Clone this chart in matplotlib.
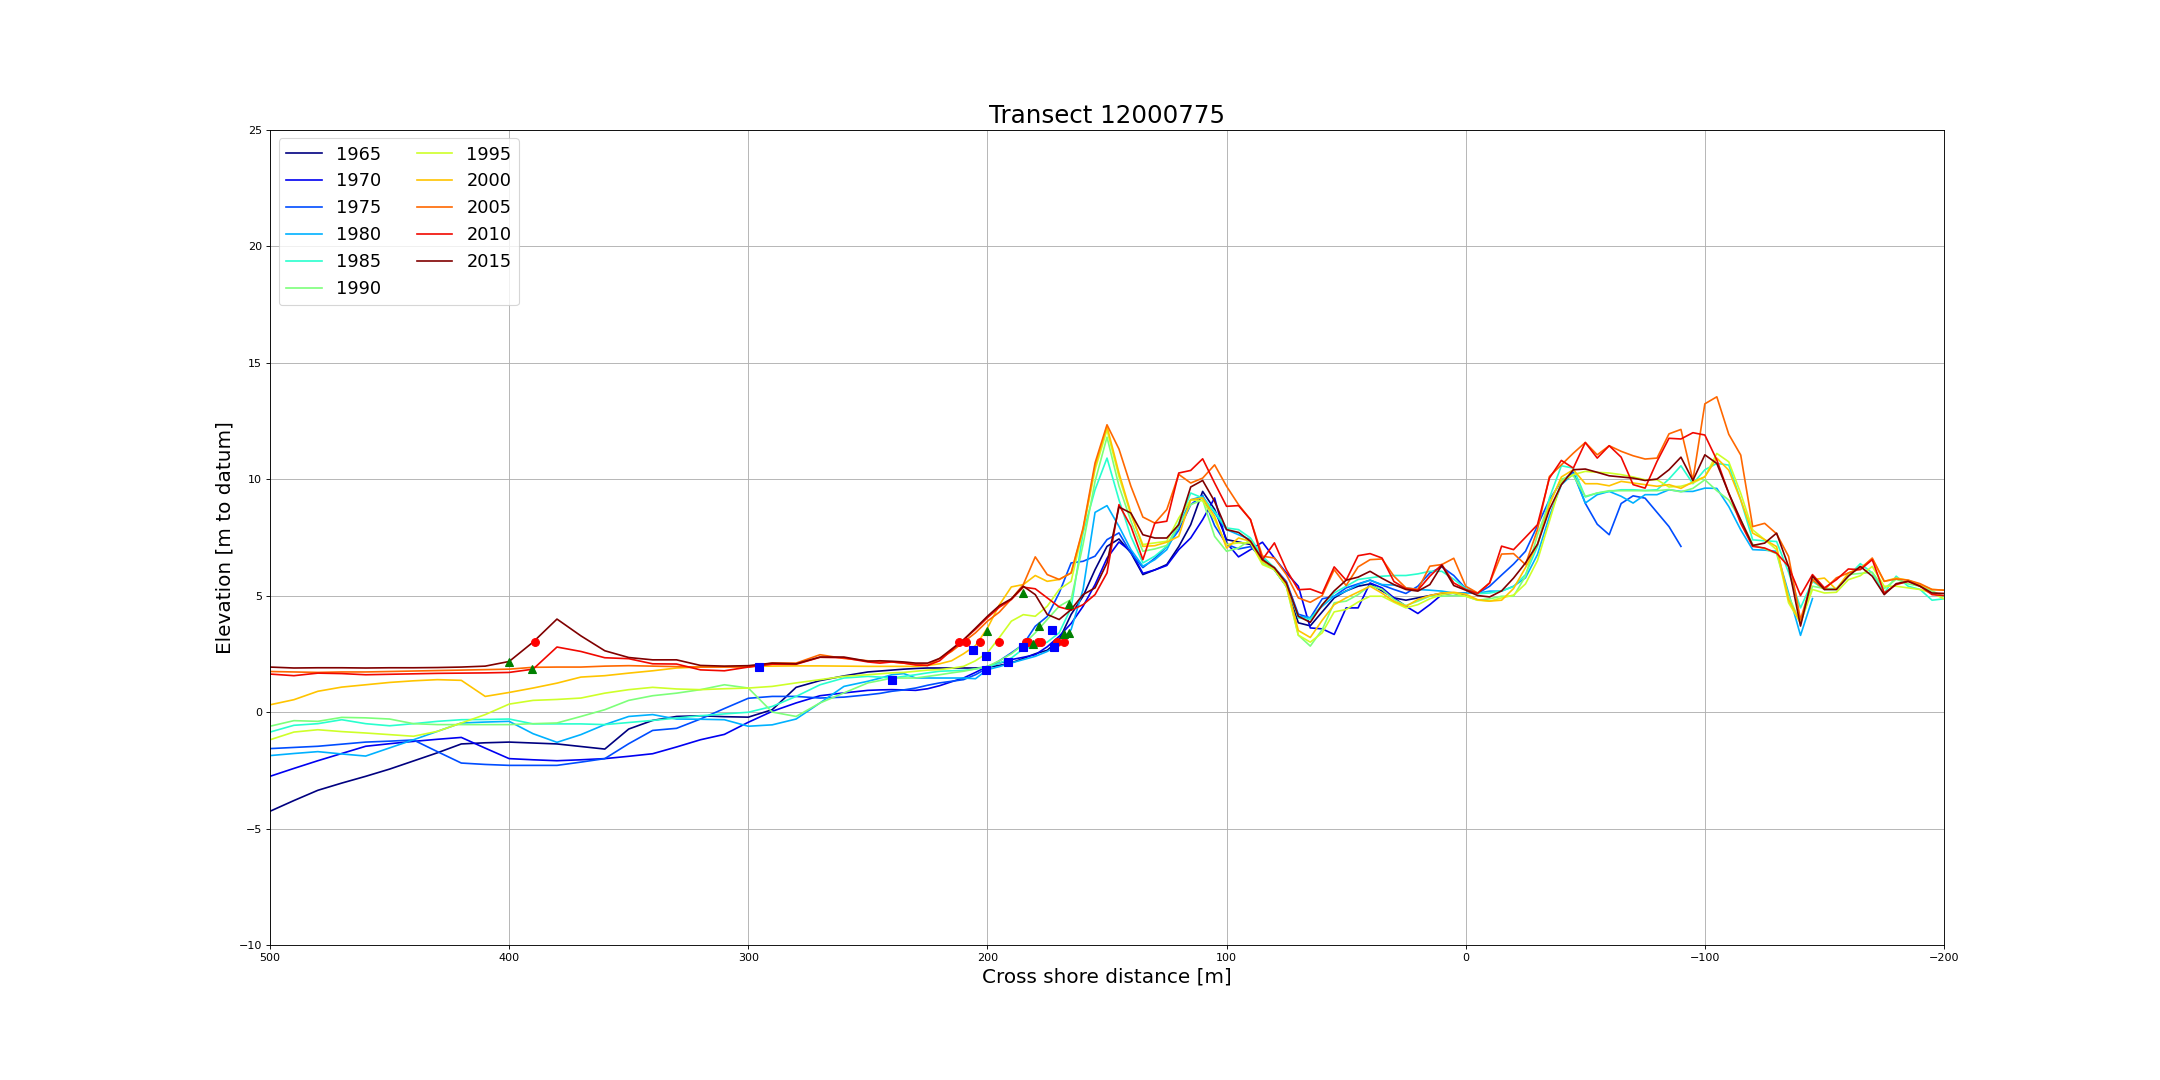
import numpy as np
import matplotlib
matplotlib.use('Agg')
import matplotlib.pyplot as plt

nan = float('nan')

years = [1965, 1970, 1975, 1980, 1985, 1990, 1995, 2000, 2005, 2010, 2015]

# cross-shore positions: beach part every 10 m, dune part every 5 m
x_beach = np.arange(500, 255, -10)     # 500 ... 260
x_dune = np.arange(250, -201, -5)      # 250 ... -200

beach = {
    1965: [-4.26, -3.8, -3.36, -3.05, -2.76, -2.45, -2.1, -1.75, -1.37, -1.32,
           -1.29, -1.33, -1.37, -1.48, -1.59, -0.73, -0.36, -0.19, -0.16, -0.2,
           -0.22, 0.1, 1.06, 1.35, 1.55],
    1970: [-2.76, -2.42, -2.09, -1.78, -1.47, -1.36, -1.26, -1.17, -1.09, -1.55,
           -2.0, -2.05, -2.09, -2.05, -2.0, -1.9, -1.79, -1.5, -1.19, -0.96,
           -0.44, 0.03, 0.39, 0.7, 0.82],
    1975: [-1.57, -1.52, -1.47, -1.38, -1.29, -1.25, -1.2, -1.7, -2.19, -2.25,
           -2.29, -2.29, -2.29, -2.15, -2.0, -1.36, -0.79, -0.7, -0.3, 0.15,
           0.59, 0.67, 0.67, 0.6, 0.64],
    1980: [-1.87, -1.78, -1.7, -1.8, -1.89, -1.54, -1.19, -0.83, -0.47, -0.43,
           -0.4, -0.93, -1.3, -0.97, -0.54, -0.19, -0.11, -0.3, -0.31, -0.33,
           -0.61, -0.55, -0.3, 0.39, 1.1],
    1985: [-0.86, -0.57, -0.5, -0.33, -0.5, -0.59, -0.5, -0.4, -0.33, -0.32,
           -0.3, -0.51, -0.51, -0.51, -0.54, -0.45, -0.36, -0.26, -0.16, -0.08,
           -0.01, 0.24, 0.67, 1.17, 1.46],
    1990: [-0.61, -0.37, -0.4, -0.23, -0.25, -0.3, -0.5, -0.54, -0.54, -0.54,
           -0.54, -0.5, -0.47, -0.19, 0.1, 0.5, 0.7, 0.81, 0.96, 1.17,
           1.03, 0.0, -0.19, 0.39, 0.82],
    1995: [-1.19, -0.86, -0.76, -0.84, -0.9, -0.97, -1.04, -0.83, -0.47, -0.11,
           0.34, 0.5, 0.54, 0.6, 0.81, 0.96, 1.06, 0.99, 0.96, 1.0,
           1.03, 1.1, 1.25, 1.39, 1.53],
    2000: [0.31, 0.53, 0.89, 1.07, 1.17, 1.27, 1.34, 1.39, 1.36, 0.67,
           0.84, 1.03, 1.24, 1.5, 1.56, 1.67, 1.77, 1.89, 1.93, 1.95,
           1.96, 1.97, 1.98, 1.98, 1.97],
    2005: [1.74, 1.72, 1.7, 1.72, 1.72, 1.74, 1.76, 1.78, 1.8, 1.82,
           1.84, 1.92, 1.93, 1.93, 1.97, 1.99, 1.97, 1.95, 1.93, 1.93,
           1.93, 2.1, 2.1, 2.46, 2.3],
    2010: [1.63, 1.56, 1.67, 1.65, 1.6, 1.62, 1.64, 1.66, 1.67, 1.68,
           1.7, 1.84, 2.79, 2.6, 2.33, 2.29, 2.07, 2.06, 1.81, 1.77,
           1.93, 2.05, 2.05, 2.35, 2.33],
    2015: [1.93, 1.89, 1.9, 1.9, 1.89, 1.9, 1.9, 1.91, 1.93, 1.97,
           2.17, 3.0, 3.99, 3.27, 2.63, 2.34, 2.24, 2.24, 2.0, 1.97,
           1.99, 2.1, 2.07, 2.36, 2.36],
}

dune = {
    1965: [1.72, 1.76, 1.8, 1.84, 1.87, 1.89, 1.89, 1.89, 1.89, 1.89,
           1.92, 2.0, 2.11, 2.3, 2.5, 2.65, 3.1, 4.19, 4.97, 6.11,
           7.11, 7.43, 6.83, 5.9, 6.1, 6.33, 7.1, 8.04, 9.47, 8.7,
           7.4, 7.3, 7.19, 6.54, 6.11, 5.4, 3.83, 3.7, 4.3, 4.9,
           5.2, 5.4, 5.5, 5.2, 4.9, 4.8, 4.9, 5.0, 5.1, 5.1,
           5.0],
    1970: [0.93, 0.95, 0.96, 0.95, 0.93, 1.0, 1.13, 1.3, 1.46, 1.7,
           1.96, 2.1, 2.25, 2.35, 2.46, 2.8, 3.25, 3.8, 4.54, 5.47,
           6.6, 7.3, 6.9, 5.95, 6.1, 6.29, 6.97, 7.47, 8.26, 9.19,
           7.26, 6.66, 6.97, 7.29, 6.61, 5.97, 5.4, 3.61, 3.57, 3.33,
           4.47, 4.47, 5.54, 5.33, 4.9, 4.54, 4.23, 4.61, 5.04, 5.11,
           5.11],
    1975: [0.74, 0.8, 0.89, 0.95, 1.03, 1.15, 1.25, 1.32, 1.39, 1.6,
           1.89, 2.2, 2.54, 2.9, 3.68, 4.1, 5.11, 6.4, 6.47, 6.69,
           7.4, 7.69, 6.83, 6.2, 6.6, 7.1, 7.8, 8.9, 9.3, 8.0,
           7.2, 7.0, 7.1, 6.6, 6.2, 5.6, 4.2, 4.04, 4.86, 4.97,
           5.33, 5.5, 5.66, 5.45, 5.26, 5.09, 5.4, 5.97, 6.23, 5.86,
           5.3, 5.09, 5.4, 5.88, 6.35, 6.9, 8.0, 9.11, 9.9, 10.3,
           8.96, 8.06, 7.61, 8.95, 9.28, 9.18, 8.57, 7.96, 7.11],
    1980: [1.32, 1.45, 1.6, 1.65, 1.46, 1.46, 1.46, 1.46, 1.46, 1.43,
           1.82, 1.95, 2.11, 2.25, 2.39, 2.6, 2.89, 3.54, 5.26, 8.57,
           8.86, 7.97, 6.97, 6.26, 6.54, 6.97, 7.97, 9.11, 9.26, 8.54,
           7.83, 7.61, 7.4, 6.61, 6.11, 5.4, 4.11, 4.04, 4.54, 4.97,
           5.19, 5.47, 5.66, 5.47, 5.45, 5.33, 5.26, 5.23, 5.19, 5.11,
           5.11, 5.1, 5.19, 5.19, 5.4, 5.76, 6.76, 8.4, 9.76, 10.23,
           8.97, 9.33, 9.47, 9.26, 8.97, 9.33, 9.33, 9.54, 9.47, 9.47,
           9.61, 9.6, 8.82, 7.82, 6.97, 6.95, 6.9, 5.11, 3.29, 4.87],
    1985: [1.53, 1.5, 1.46, 1.53, 1.6, 1.68, 1.75, 1.77, 1.79, 1.85,
           1.93, 2.1, 2.32, 2.71, 2.82, 3.0, 3.4, 4.47, 7.69, 9.54,
           10.9, 9.11, 7.54, 6.4, 6.69, 7.11, 8.11, 9.4, 9.19, 8.61,
           7.9, 7.83, 7.47, 6.69, 6.19, 5.54, 4.04, 3.97, 4.61, 5.11,
           5.4, 5.69, 5.76, 5.83, 5.86, 5.86, 5.93, 6.04, 6.04, 5.7,
           5.3, 5.08, 5.11, 5.2, 5.38, 5.9, 7.11, 9.19, 10.57, 10.47,
           9.23, 9.4, 9.47, 9.54, 9.54, 9.51, 9.54, 10.0, 10.57, 9.8,
           10.4, 10.67, 10.6, 9.1, 7.39, 7.35, 7.32, 6.0, 4.47, 5.61,
           5.26, 5.26, 5.83, 6.37, 5.97, 5.11, 5.83, 5.4, 5.26, 4.8,
           4.86],
    1990: [1.25, 1.35, 1.46, 1.46, 1.46, 1.53, 1.6, 1.68, 1.75, 1.85,
           1.96, 2.2, 2.5, 2.9, 3.4, 3.97, 4.54, 4.83, 7.2, 9.9,
           11.8, 9.7, 8.2, 6.9, 7.0, 7.15, 8.0, 8.9, 9.11, 7.54,
           6.9, 7.04, 7.4, 6.4, 6.11, 5.4, 3.3, 2.83, 3.54, 4.69,
           4.76, 5.04, 5.43, 5.26, 4.83, 4.57, 4.76, 4.97, 4.97, 5.0,
           4.97, 4.8, 4.86, 4.97, 4.97, 5.83, 7.6, 9.0, 10.0, 10.15,
           9.26, 9.4, 9.5, 9.5, 9.5, 9.5, 9.5, 9.55, 9.45, 9.6,
           9.97, 9.5, 9.1, 8.25, 7.2, 7.0, 6.8, 5.0, 3.8, 5.4,
           5.3, 5.3, 5.9, 5.95, 6.0, 5.3, 5.7, 5.5, 5.4, 5.2,
           4.95],
    1995: [1.6, 1.64, 1.68, 1.7, 1.75, 1.8, 1.82, 1.88, 1.96, 2.2,
           2.54, 3.2, 3.9, 4.18, 4.11, 4.54, 5.26, 5.61, 7.83, 10.4,
           12.11, 10.11, 8.47, 7.19, 7.26, 7.33, 8.33, 9.11, 9.07, 8.26,
           7.19, 7.26, 7.26, 6.33, 6.11, 5.4, 3.3, 3.0, 3.4, 4.3,
           4.4, 4.72, 4.97, 4.97, 4.71, 4.47, 4.61, 4.86, 5.04, 5.11,
           4.97, 4.8, 4.76, 4.9, 5.02, 5.5, 6.5, 8.19, 9.9, 10.19,
           10.33, 10.29, 10.26, 10.19, 10.09, 9.97, 9.97, 9.66, 9.69, 9.83,
           10.09, 11.1, 10.74, 9.39, 7.82, 7.4, 6.97, 4.69, 3.83, 5.26,
           5.11, 5.14, 5.68, 5.85, 6.25, 5.4, 5.4, 5.33, 5.26, 5.11,
           4.86],
    2000: [1.96, 1.96, 1.96, 1.96, 1.96, 2.0, 2.07, 2.2, 2.5, 2.85,
           3.6, 4.6, 5.37, 5.47, 5.86, 5.61, 5.69, 5.97, 7.83, 10.54,
           12.26, 10.26, 8.54, 7.11, 7.14, 7.29, 7.54, 9.11, 9.19, 8.4,
           7.04, 7.47, 7.33, 6.47, 6.19, 5.47, 3.5, 3.2, 3.94, 4.61,
           4.9, 5.15, 5.4, 5.1, 4.75, 4.54, 4.83, 5.0, 5.11, 5.14,
           5.06, 4.82, 4.76, 4.8, 5.3, 6.2, 7.2, 8.9, 10.09, 10.4,
           9.8, 9.8, 9.71, 9.9, 9.83, 9.76, 9.69, 9.76, 9.6, 9.88,
           10.1, 10.9, 10.38, 9.1, 7.68, 7.4, 7.1, 4.83, 3.83, 5.68,
           5.75, 5.26, 5.97, 6.18, 6.57, 5.61, 5.75, 5.66, 5.47, 5.26,
           5.23],
    2005: [2.2, 2.15, 2.15, 2.1, 2.05, 2.0, 2.3, 2.6, 3.0, 3.4,
           3.9, 4.29, 4.85, 5.47, 6.66, 5.9, 5.69, 5.97, 7.9, 10.69,
           12.33, 11.29, 9.69, 8.37, 8.11, 8.69, 10.2, 9.83, 10.04, 10.61,
           9.69, 8.9, 8.26, 6.69, 6.61, 5.9, 4.9, 4.71, 5.0, 6.11,
           5.43, 6.23, 6.54, 6.57, 5.83, 5.33, 5.26, 6.26, 6.33, 6.6,
           5.4, 5.11, 5.54, 6.78, 6.8, 6.33, 7.83, 10.11, 10.61, 11.11,
           11.57, 11.04, 11.43, 11.19, 11.0, 10.86, 10.9, 11.94, 12.13, 9.95,
           13.23, 13.53, 11.92, 11.03, 7.96, 8.1, 7.65, 6.68, 3.97, 5.68,
           5.26, 5.76, 5.97, 6.14, 6.61, 5.61, 5.71, 5.66, 5.51, 5.26,
           5.23],
    2010: [2.15, 2.1, 2.15, 2.1, 2.02, 2.0, 2.2, 2.65, 3.1, 3.55,
           4.05, 4.5, 4.83, 5.36, 5.29, 4.9, 4.51, 4.37, 4.61, 5.04,
           5.97, 8.9, 7.97, 6.54, 8.11, 8.19, 10.26, 10.37, 10.87, 9.83,
           8.83, 8.86, 8.26, 6.54, 7.26, 6.11, 5.25, 5.28, 5.09, 6.23,
           5.66, 6.71, 6.8, 6.61, 5.6, 5.29, 5.23, 5.83, 6.33, 5.54,
           5.26, 5.09, 5.54, 7.12, 6.97, 7.5, 8.04, 10.04, 10.8, 10.47,
           11.57, 10.9, 11.43, 10.94, 9.76, 9.61, 10.76, 11.75, 11.72, 11.99,
           11.89, 10.82, 9.39, 8.1, 7.11, 7.04, 6.82, 6.25, 5.0, 5.9,
           5.33, 5.68, 6.14, 6.11, 6.54, 5.11, 5.47, 5.61, 5.4, 5.04,
           5.0],
    2015: [2.18, 2.2, 2.18, 2.15, 2.1, 2.1, 2.3, 2.7, 3.1, 3.6,
           4.11, 4.57, 4.86, 5.4, 5.04, 4.19, 3.97, 4.4, 5.04, 5.33,
           6.4, 8.8, 8.54, 7.61, 7.47, 7.47, 8.04, 9.66, 9.94, 9.04,
           7.83, 7.71, 7.33, 6.54, 6.19, 5.54, 4.11, 3.85, 4.6, 5.2,
           5.66, 5.79, 6.04, 5.74, 5.47, 5.26, 5.19, 5.47, 6.3, 5.43,
           5.23, 5.0, 4.94, 5.2, 5.75, 6.4, 7.2, 8.69, 9.76, 10.4,
           10.43, 10.29, 10.14, 10.09, 10.04, 9.94, 10.0, 10.4, 10.94, 9.94,
           11.04, 10.67, 9.39, 8.25, 7.15, 7.25, 7.68, 6.25, 3.69, 5.83,
           5.26, 5.26, 5.83, 6.25, 5.83, 5.04, 5.51, 5.61, 5.4, 5.11,
           5.09],
}

# indicator points
red_x = [389, 212, 209, 203, 195, 184, 183, 179, 177.5, 171, 168]
red_y = [3.0, 3.0, 3.0, 3.0, 3.0, 3.0, 3.0, 3.0, 3.0, 3.0, 3.0]
blue_x = [295.5, 239.7, 206, 200.8, 200.8, 191.5, 185, 172.8, 172]
blue_y = [1.93, 1.39, 2.68, 2.39, 1.81, 2.16, 2.8, 3.54, 2.77]
green_x = [400, 390.5, 200, 185, 181, 178.5, 168, 165.7, 165.7]
green_y = [2.14, 1.84, 3.47, 5.11, 2.92, 3.69, 3.36, 3.4, 4.64]

fig = plt.figure(figsize=(27, 13.5), dpi=80)
fig.subplots_adjust(left=0.125, right=0.9, bottom=0.125, top=0.88)
ax = fig.add_subplot(111)

colors = plt.cm.jet(np.linspace(0, 1, len(years)))
x_all = np.concatenate([x_beach, x_dune])
for yr, c in zip(years, colors):
    d = list(dune[yr]) + [nan] * (len(x_dune) - len(dune[yr]))
    y_all = np.array(list(beach[yr]) + d, dtype=float)
    ok = np.isfinite(y_all)
    ax.plot(x_all[ok], y_all[ok], color=c, lw=1.5, label=str(yr))

ax.plot(red_x, red_y, 'ro', ms=7)
ax.plot(blue_x, blue_y, 'bs', ms=6.5)
ax.plot(green_x, green_y, 'g^', ms=6.5)

ax.set_xlim(500, -200)
ax.set_ylim(-10, 25)
ax.set_xticks([500, 400, 300, 200, 100, 0, -100, -200])
ax.set_yticks([-10, -5, 0, 5, 10, 15, 20, 25])
ax.grid(True)
ax.set_title('Transect 12000775', fontsize=22)
ax.set_xlabel('Cross shore distance [m]', fontsize=18)
ax.set_ylabel('Elevation [m to datum]', fontsize=18)
ax.legend(loc='upper left', ncol=2, fontsize=16)

fig.savefig('out.png', dpi=80)
